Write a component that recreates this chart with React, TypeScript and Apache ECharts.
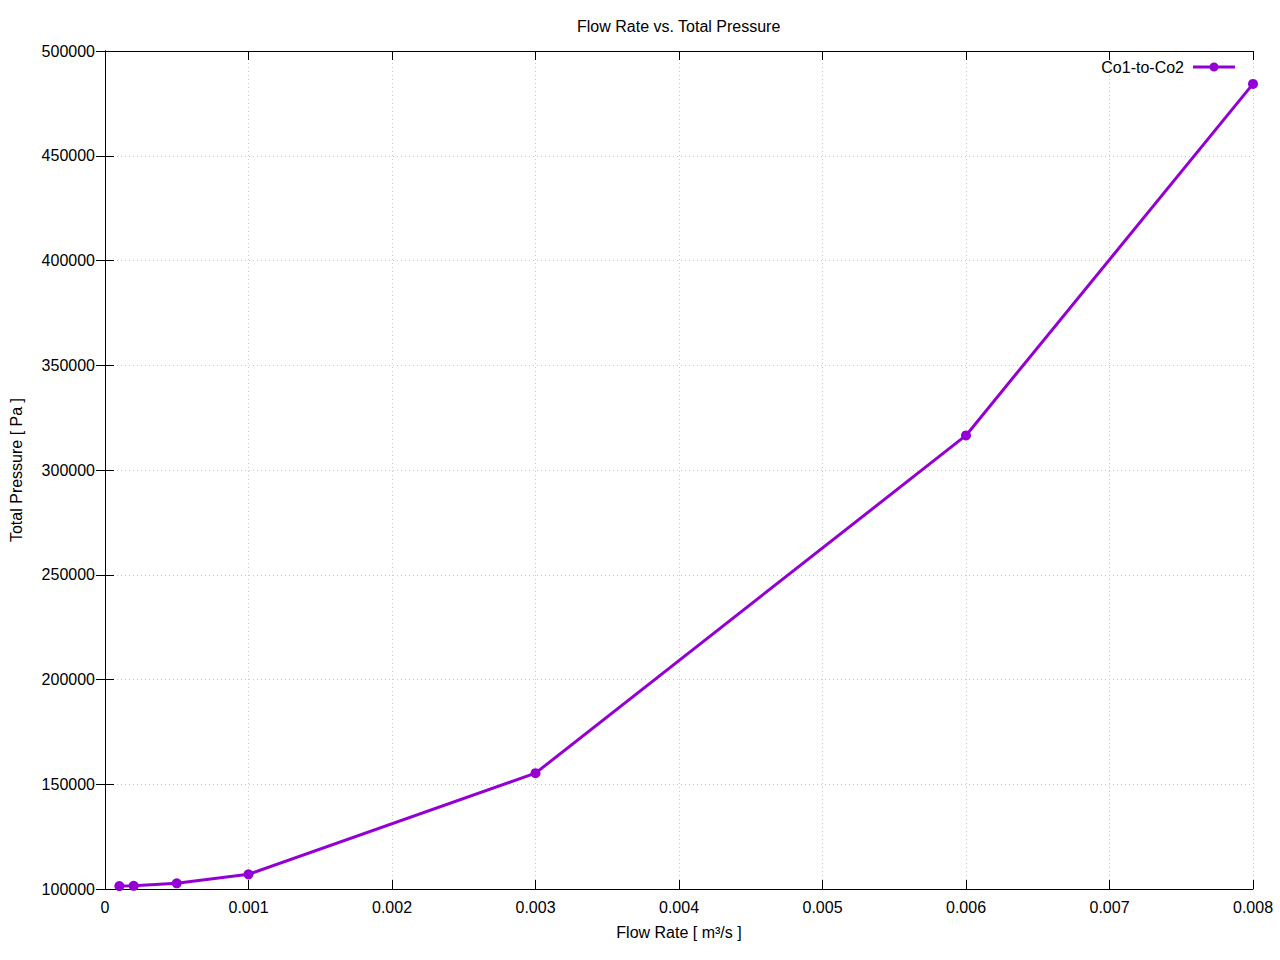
import React, { useEffect, useRef } from "react";
import * as echarts from "echarts";

const flowRates = [0.0001, 0.0002, 0.0005, 0.001, 0.003, 0.006, 0.008];
const pressures = [101400, 101500, 102700, 107000, 155300, 316500, 484300];
const seriesName = "Co1-to-Co2";
const titleText = "Flow Rate vs. Total Pressure";
const xName = "Flow Rate [ m\u00B3/s ]";
const yName = "Total Pressure [ Pa ]";

const FONT = "'Liberation Sans', Arial, sans-serif";
const COLOR = "#9400D3";

export default function App() {
  const ref = useRef<HTMLDivElement>(null);
  useEffect(() => {
    if (!ref.current) return;
    const chart = echarts.init(ref.current, undefined, { renderer: "svg" });
    const data = flowRates.map((x, i) => [x, pressures[i]]);
    const tickStyle = { inside: true, length: 9, lineStyle: { color: "#000", width: 1 } };
    const gridLine = { show: true, lineStyle: { color: "#c8c8c8", type: [1, 3] as any, width: 1 } };
    chart.setOption({
      animation: false,
      backgroundColor: "#fff",
      textStyle: { fontFamily: FONT, color: "#000" },
      title: {
        text: titleText,
        left: 572,
        top: 13,
        textStyle: { fontFamily: FONT, fontSize: 16, fontWeight: "normal", color: "#000" },
      },
      legend: {
        right: 40,
        top: 54,
        align: "right",
        itemWidth: 42,
        itemHeight: 9,
        itemGap: 10,
        textStyle: { fontFamily: FONT, fontSize: 16, color: "#000", padding: [0, 4, 0, 0] },
        data: [
          {
            name: seriesName,
            icon: "path://M0,5.5L42,5.5L42,8.5L0,8.5Z M16.5,7A4.5,4.5 0 1 1 25.5,7A4.5,4.5 0 1 1 16.5,7Z",
          },
        ],
      },
      grid: { left: 104, right: 27, top: 51, bottom: 71, show: false },
      xAxis: [
        {
          type: "value",
          min: 0,
          max: 0.008,
          interval: 0.001,
          name: xName,
          nameLocation: "middle",
          nameGap: 35,
          nameTextStyle: { fontFamily: FONT, fontSize: 16, color: "#000" },
          axisLine: { show: true, lineStyle: { color: "#000", width: 1 } },
          axisTick: tickStyle,
          axisLabel: { fontFamily: FONT, fontSize: 16, color: "#000", margin: 10 },
          splitLine: gridLine,
        },
        {
          type: "value",
          position: "top",
          min: 0,
          max: 0.008,
          interval: 0.001,
          axisLine: { show: true, lineStyle: { color: "#000", width: 1 } },
          axisTick: tickStyle,
          axisLabel: { show: false },
          splitLine: { show: false },
        },
      ],
      yAxis: [
        {
          type: "value",
          min: 100000,
          max: 500000,
          interval: 50000,
          name: yName,
          nameLocation: "middle",
          nameGap: 81,
          nameTextStyle: { fontFamily: FONT, fontSize: 16, color: "#000" },
          axisLine: { show: true, lineStyle: { color: "#000", width: 1 } },
          axisTick: tickStyle,
          axisLabel: {
            fontFamily: FONT,
            fontSize: 16,
            color: "#000",
            margin: 10,
            formatter: (v: number) => String(v),
          },
          splitLine: gridLine,
        },
        {
          type: "value",
          position: "right",
          min: 100000,
          max: 500000,
          interval: 50000,
          axisLine: { show: true, lineStyle: { color: "#000", width: 1 } },
          axisTick: tickStyle,
          axisLabel: { show: false },
          splitLine: { show: false },
        },
      ],
      series: [
        {
          name: seriesName,
          type: "line",
          data,
          color: COLOR,
          symbol: "circle",
          symbolSize: 10,
          showSymbol: true,
          lineStyle: { color: COLOR, width: 3 },
          itemStyle: { color: COLOR },
          clip: false,
        },
      ],
    });
    return () => chart.dispose();
  }, []);
  return (
    <div
      ref={ref}
      style={{ position: "fixed", left: 0, top: 0, width: 1280, height: 960, background: "#fff" }}
    />
  );
}
